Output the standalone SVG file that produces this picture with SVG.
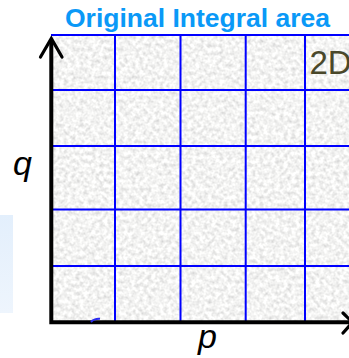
<svg xmlns="http://www.w3.org/2000/svg" width="349" height="358" viewBox="0 0 349 358">
  <defs>
    <filter id="paper" x="0" y="0" width="100%" height="100%">
      <feTurbulence type="fractalNoise" baseFrequency="0.25" numOctaves="3" seed="7"/>
      <feColorMatrix type="matrix" values="0.6 0 0 0 0.6  0.6 0 0 0 0.6  0.58 0 0 0 0.6  0 0 0 0 1"/>
    </filter>
    <linearGradient id="panel" x1="0" y1="0" x2="0" y2="1">
      <stop offset="0" stop-color="#e3effc"/>
      <stop offset="1" stop-color="#eef5fd"/>
    </linearGradient>
    <style>
      .grid line { stroke: #0000ff; stroke-width: 2; }
      .axis { stroke: #000; stroke-width: 4; fill: none; }
      .head { stroke: #000; stroke-width: 3.2; fill: none; stroke-linecap: round; stroke-linejoin: miter; }
      .var { font-family: "Liberation Sans", Arial, sans-serif; font-style: italic; font-size: 34px; fill: #000; }
    </style>
  </defs>
  <rect width="349" height="358" fill="#ffffff"/>
  <rect id="side-panel" x="0" y="215" width="13" height="98" fill="url(#panel)"/>
  <rect id="area" x="52" y="35" width="297" height="287" fill="#e6e6e4" filter="url(#paper)"/>
  <g id="title">
    <text x="65" y="26.5" font-family="Liberation Sans, Arial, sans-serif" font-weight="bold" font-size="26.5" fill="#0a99f7">Original Integral area</text>
  </g>
  <g id="grid" class="grid">
    <line x1="51" y1="35" x2="349" y2="35"/>
    <line x1="51" y1="90" x2="349" y2="90"/>
    <line x1="51" y1="146" x2="349" y2="146"/>
    <line x1="51" y1="209.5" x2="349" y2="209.5"/>
    <line x1="51" y1="266" x2="349" y2="266"/>
    <line x1="115" y1="35" x2="115" y2="322"/>
    <line x1="180.5" y1="35" x2="180.5" y2="322"/>
    <line x1="245.7" y1="35" x2="245.7" y2="322"/>
    <line x1="305" y1="35" x2="305" y2="322"/>
  </g>
  <g id="label-2d">
    <text x="309.5" y="74" font-family="Liberation Sans, Arial, sans-serif" font-size="33" fill="#4a482a">2D</text>
  </g>
  <g id="connectors">
    <path class="axis" d="M51.3,40 V322.3 H352"/>
    <path class="head" d="M40.5,57 L51.3,38.5 L62,57"/>
    <path class="head" d="M343,313 L352.5,322.3 L343,333"/>
    <path d="M91,322 Q94,318.5 100,318.8" stroke="#2a2af0" stroke-width="2" fill="none"/>
  </g>
  <g id="axis-labels">
    <text class="var" x="13" y="175">q</text>
    <text class="var" x="198" y="348">p</text>
  </g>
</svg>
